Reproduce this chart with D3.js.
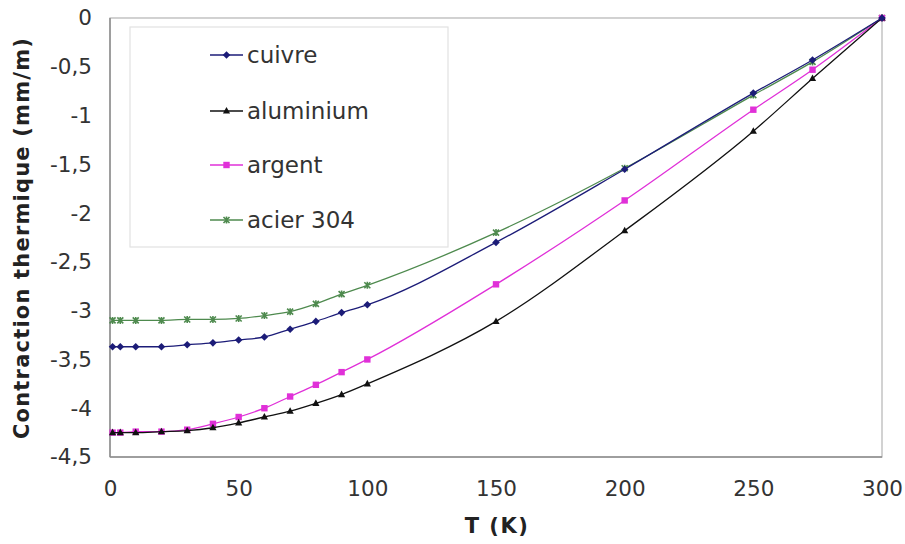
<!DOCTYPE html>
<html><head><meta charset="utf-8">
<script src="https://cdn.jsdelivr.net/npm/d3@7"></script>
<style>body{margin:0;background:#fff}svg{display:block}text{font-family:"DejaVu Sans",Verdana,sans-serif}</style>
</head><body><svg id="c" width="905" height="544"></svg>
<script>
const temps = [1, 4, 10, 20, 30, 40, 50, 60, 70, 80, 90, 100, 150, 200, 250, 273, 300];
const cuivre = [-3.37, -3.37, -3.37, -3.37, -3.35, -3.33, -3.30, -3.27, -3.19, -3.11, -3.02, -2.94, -2.30, -1.55, -0.77, -0.43, 0];
const aluminium = [-4.25, -4.25, -4.25, -4.24, -4.23, -4.20, -4.15, -4.09, -4.03, -3.95, -3.86, -3.75, -3.11, -2.18, -1.16, -0.62, 0];
const argent = [-4.25, -4.25, -4.24, -4.24, -4.22, -4.16, -4.09, -4.00, -3.88, -3.76, -3.63, -3.50, -2.73, -1.87, -0.94, -0.53, 0];
const acier = [-3.10, -3.10, -3.10, -3.10, -3.09, -3.09, -3.08, -3.05, -3.01, -2.93, -2.83, -2.74, -2.20, -1.54, -0.79, -0.45, 0];
const seriesNames = ["cuivre", "aluminium", "argent", "acier 304"];
const xTicks = [0, 50, 100, 150, 200, 250, 300];
const yTicks = [0, -0.5, -1, -1.5, -2, -2.5, -3, -3.5, -4, -4.5];
const xTitle = "T (K)";
const yTitle = "Contraction thermique (mm/m)";

const series = [
  {name: seriesNames[0], values: cuivre, color: "#1c1c78", marker: "diamond"},
  {name: seriesNames[1], values: aluminium, color: "#111111", marker: "triangle"},
  {name: seriesNames[2], values: argent, color: "#e030d8", marker: "square"},
  {name: seriesNames[3], values: acier, color: "#4e8a4e", marker: "cross"}
];

const svg = d3.select("#c");
const L = 110, R = 882, T = 18, B = 457;
const x = d3.scaleLinear().domain([0, 300]).range([L, R]);
const y = d3.scaleLinear().domain([-4.5, 0]).range([B, T]);

// plot frame
svg.append("rect").attr("x", L).attr("y", T).attr("width", R - L).attr("height", B - T)
  .attr("fill", "none").attr("stroke", "#b4b4b4").attr("stroke-width", 1.2);
svg.append("line").attr("x1", L).attr("x2", L).attr("y1", T).attr("y2", B).attr("stroke", "#8c8c8c").attr("stroke-width", 1.5);
svg.append("line").attr("x1", L).attr("x2", R).attr("y1", B).attr("y2", B).attr("stroke", "#8c8c8c").attr("stroke-width", 1.5);

// axes
const fmt = d => String(d).replace(".", ",");
const xAxis = svg.append("g").attr("transform", `translate(0,${B})`)
  .call(d3.axisBottom(x).tickValues(xTicks).tickSize(0).tickPadding(24).tickFormat(fmt));
const yAxis = svg.append("g").attr("transform", `translate(${L},0)`)
  .call(d3.axisLeft(y).tickValues(yTicks).tickSize(0).tickPadding(18).tickFormat(fmt));
[xAxis, yAxis].forEach(g => {
  g.select(".domain").remove();
  g.selectAll("text").attr("font-size", 21.5).attr("fill", "#333").attr("font-family", "DejaVu Sans, Verdana, sans-serif");
});

svg.append("text").attr("x", 497).attr("y", 533).attr("text-anchor", "middle")
  .attr("font-size", 21).attr("letter-spacing", 1.5).attr("font-weight", "bold").attr("fill", "#222").text(xTitle);
svg.append("text").attr("transform", "translate(29,238) rotate(-90)").attr("text-anchor", "middle")
  .attr("font-size", 21).attr("letter-spacing", 1.2).attr("font-weight", "bold").attr("fill", "#222").text(yTitle);

// lines & markers
const line = d3.line().x((d, i) => x(temps[i])).y(d => y(d)).curve(d3.curveMonotoneX);
function drawMarker(g, type, cx, cy, color) {
  if (type === "diamond") {
    g.append("path").attr("d", `M${cx},${cy-3.8}L${cx+3.8},${cy}L${cx},${cy+3.8}L${cx-3.8},${cy}Z`).attr("fill", color);
  } else if (type === "triangle") {
    g.append("path").attr("d", `M${cx},${cy-4}L${cx+3.6},${cy+2.6}L${cx-3.6},${cy+2.6}Z`).attr("fill", color);
  } else if (type === "square") {
    g.append("rect").attr("x", cx - 3.2).attr("y", cy - 3.2).attr("width", 6.4).attr("height", 6.4).attr("fill", color);
  } else {
    g.append("path").attr("d", `M${cx-3},${cy-3}L${cx+3},${cy+3}M${cx-3},${cy+3}L${cx+3},${cy-3}M${cx},${cy-3.5}L${cx},${cy+3.5}`)
      .attr("stroke", color).attr("stroke-width", 1.6).attr("fill", "none");
  }
}
[3, 2, 1, 0].forEach(si => {
  const s = series[si];
  const g = svg.append("g");
  g.append("path").datum(s.values).attr("d", line).attr("fill", "none").attr("stroke", s.color).attr("stroke-width", 1.3);
  s.values.forEach((v, i) => drawMarker(g, s.marker, x(temps[i]), y(v), s.color));
});

// legend
const lg = svg.append("g");
lg.append("rect").attr("x", 130).attr("y", 27).attr("width", 318).attr("height", 220)
  .attr("fill", "#fff").attr("stroke", "#e2e2e2").attr("stroke-width", 1.2);
const legY = [55, 111, 165, 220];
series.forEach((s, i) => {
  const cy = legY[i];
  lg.append("line").attr("x1", 210).attr("x2", 243).attr("y1", cy).attr("y2", cy).attr("stroke", s.color).attr("stroke-width", 1.3);
  drawMarker(lg, s.marker, 226.5, cy, s.color);
  lg.append("text").attr("x", 247).attr("y", cy).attr("dy", "0.35em").attr("font-size", 23).attr("fill", "#333").text(s.name);
});
</script></body></html>
